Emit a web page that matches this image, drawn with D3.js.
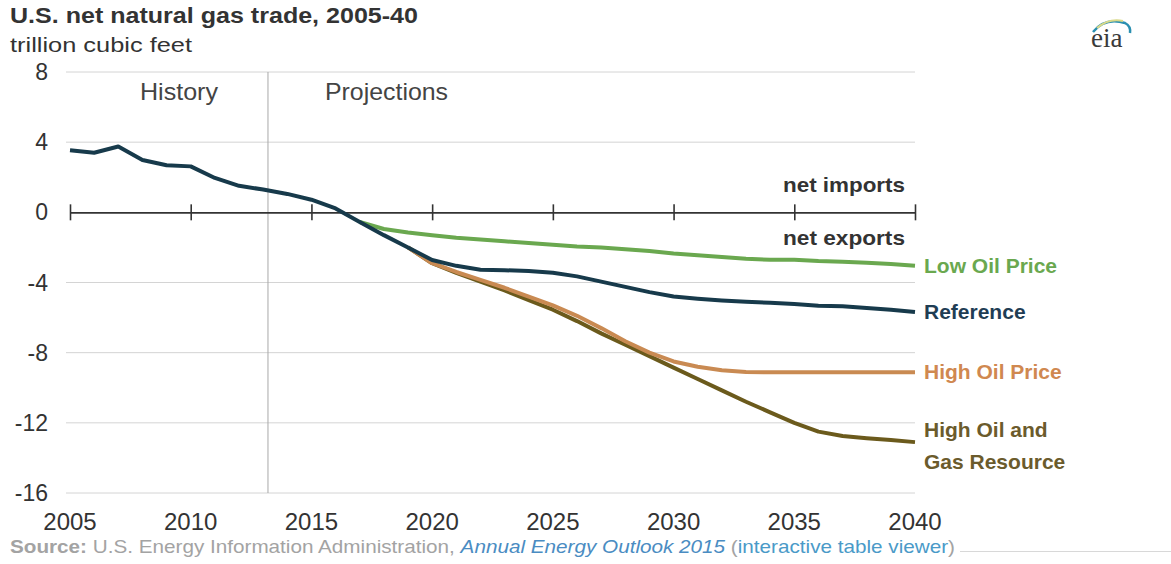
<!DOCTYPE html>
<html>
<head>
<meta charset="utf-8">
<script src="https://cdn.jsdelivr.net/npm/d3@7"></script>
<style>
  html, body { margin: 0; padding: 0; background: #fff; }
  svg { display: block; font-family: "Liberation Sans", Arial, sans-serif; }
</style>
</head>
<body>
<svg id="chart" width="1171" height="564"></svg>
<script>
// U.S. net natural gas trade (trillion cubic feet), positive = net imports
const years = d3.range(2005, 2041);
const reference = [3.54, 3.40, 3.75, 2.98, 2.68, 2.62, 1.96, 1.51, 1.30, 1.05, 0.72, 0.22,
  -0.55, -1.30, -2.00, -2.72, -3.05, -3.27, -3.30, -3.35, -3.45, -3.65, -3.95, -4.25,
  -4.55, -4.80, -4.92, -5.02, -5.10, -5.15, -5.22, -5.32, -5.35, -5.45, -5.55, -5.68];

const lowOilStart = 2017;
const lowOil = [-0.55, -0.95, -1.15, -1.30, -1.45, -1.55, -1.65, -1.75, -1.85, -1.95, -2.00, -2.10,
  -2.20, -2.35, -2.45, -2.55, -2.65, -2.70, -2.70, -2.78, -2.82, -2.88, -2.95, -3.05];

const highOilStart = 2019;
const highOil = [-2.00, -2.90, -3.40, -3.85, -4.30, -4.80, -5.30, -5.90, -6.60, -7.35, -8.00,
  -8.50, -8.80, -9.00, -9.10, -9.12, -9.12, -9.12, -9.12, -9.12, -9.12, -9.12];

const highResourceStart = 2019;
const highResource = [-2.00, -2.90, -3.45, -3.95, -4.45, -5.00, -5.55, -6.20, -6.90, -7.55, -8.20,
  -8.85, -9.50, -10.15, -10.80, -11.40, -12.00, -12.50, -12.75, -12.88, -12.98, -13.10];

const xTicks = [2005, 2010, 2015, 2020, 2025, 2030, 2035, 2040];
const yTicks = [8, 4, 0, -4, -8, -12, -16];
const historyEnd = 2013.2;

const seriesNames = ["Low Oil Price", "Reference", "High Oil Price", "High Oil and Gas Resource"];

const svg = d3.select("#chart");

const x = d3.scaleLinear().domain([2005, 2040]).range([70, 915]);
const y = d3.scaleLinear().domain([-16, 8]).range([493, 72]);

// Title block
svg.append("text").attr("x", 10).attr("y", 23)
  .attr("font-size", 22).attr("font-weight", "bold").attr("fill", "#333")
  .attr("textLength", 408).attr("lengthAdjust", "spacingAndGlyphs")
  .text("U.S. net natural gas trade, 2005-40");
svg.append("text").attr("x", 10).attr("y", 52)
  .attr("font-size", 21).attr("fill", "#333")
  .attr("textLength", 182).attr("lengthAdjust", "spacingAndGlyphs")
  .text("trillion  cubic feet");

// eia mark
const logo = svg.append("g").attr("transform", "translate(1091,47)");
logo.append("path").attr("d", "M2,-15 Q14,-30 34,-24 Q40,-21 39,-14")
  .attr("fill", "none").attr("stroke", "#2a8fb0").attr("stroke-width", 2.5);
logo.append("path").attr("d", "M6,-19 Q18,-29 32,-26")
  .attr("fill", "none").attr("stroke", "#d9d98a").attr("stroke-width", 2);
logo.append("text").attr("x", 0).attr("y", 0)
  .attr("font-family", "'Liberation Serif', 'DejaVu Serif', serif")
  .attr("font-size", 27).attr("fill", "#3a3a3a").text("eia");

// Horizontal gridlines (except zero)
svg.append("g").selectAll("line")
  .data(yTicks.filter(d => d !== 0))
  .join("line")
  .attr("x1", 66).attr("x2", 915)
  .attr("y1", d => y(d)).attr("y2", d => y(d))
  .attr("stroke", "#d4d4d4").attr("stroke-width", 1);

// Y axis labels
svg.append("g").selectAll("text")
  .data(yTicks)
  .join("text")
  .attr("x", 48).attr("y", d => y(d) + 8)
  .attr("text-anchor", "end")
  .attr("font-size", 23).attr("fill", "#333")
  .text(d => d);

// History / projections divider
svg.append("line")
  .attr("x1", x(historyEnd)).attr("x2", x(historyEnd))
  .attr("y1", y(8)).attr("y2", y(-16))
  .attr("stroke", "#a8a8a8").attr("stroke-width", 1);
svg.append("text").attr("x", 140).attr("y", 100)
  .attr("font-size", 24).attr("fill", "#444")
  .attr("textLength", 78).attr("lengthAdjust", "spacingAndGlyphs").text("History");
svg.append("text").attr("x", 325).attr("y", 100)
  .attr("font-size", 24).attr("fill", "#444")
  .attr("textLength", 123).attr("lengthAdjust", "spacingAndGlyphs").text("Projections");

// Zero axis with tick marks
const xAxis = d3.axisBottom(x).tickValues(xTicks).tickSizeInner(8).tickSizeOuter(0).tickFormat("");
const axisG = svg.append("g").attr("transform", `translate(0,${y(0)})`).call(xAxis);
axisG.select(".domain").attr("stroke", "#333").attr("stroke-width", 1.6);
axisG.selectAll(".tick line").attr("y1", -8).attr("y2", 8).attr("stroke", "#333").attr("stroke-width", 1.6);

svg.append("text").attr("x", 905).attr("y", 192).attr("text-anchor", "end")
  .attr("font-size", 21).attr("font-weight", "bold").attr("fill", "#333")
  .attr("textLength", 122).attr("lengthAdjust", "spacingAndGlyphs").text("net imports");
svg.append("text").attr("x", 905).attr("y", 245).attr("text-anchor", "end")
  .attr("font-size", 21).attr("font-weight", "bold").attr("fill", "#333")
  .attr("textLength", 122).attr("lengthAdjust", "spacingAndGlyphs").text("net exports");

// X tick labels
svg.append("g").selectAll("text")
  .data(xTicks)
  .join("text")
  .attr("x", d => x(d)).attr("y", 530)
  .attr("text-anchor", "middle")
  .attr("font-size", 24).attr("fill", "#333")
  .text(d => d);

// Scenario lines
const toPoints = (start, vals) => vals.map((v, i) => [start + i, v]);
const series = [
  { name: seriesNames[0], pts: toPoints(lowOilStart, lowOil), color: "#6aa84f", label: "#6aa84f" },
  { name: seriesNames[3], pts: toPoints(highResourceStart, highResource), color: "#6b5a1c", label: "#6b5b2c" },
  { name: seriesNames[2], pts: toPoints(highOilStart, highOil), color: "#c98a52", label: "#d08850" },
  { name: seriesNames[1], pts: toPoints(2005, reference), color: "#173a4b", label: "#1f3d54" }
];
const line = d3.line().x(d => x(d[0])).y(d => y(d[1]));
svg.append("g").selectAll("path")
  .data(series)
  .join("path")
  .attr("d", d => line(d.pts))
  .attr("fill", "none")
  .attr("stroke", d => d.color)
  .attr("stroke-width", 4)
  .attr("stroke-linejoin", "round");

// End labels
const labelG = svg.append("g").attr("font-size", 21).attr("font-weight", "bold");
series.forEach(s => {
  const last = s.pts[s.pts.length - 1];
  const words = s.name === "High Oil and Gas Resource" ? ["High Oil and", "Gas Resource"] : [s.name];
  const t = labelG.append("text").attr("fill", s.label).attr("x", 924);
  if (words.length === 1) {
    t.attr("y", y(last[1]) + 7).text(words[0]);
  } else {
    t.attr("y", y(last[1]) - 5);
    t.append("tspan").attr("x", 924).attr("dy", 0).text(words[0]);
    t.append("tspan").attr("x", 924).attr("dy", 32).text(words[1]);
  }
});

// Source line
const src = svg.append("text").attr("x", 10).attr("y", 553).attr("font-size", 19).attr("fill", "#a3a3a3")
  .attr("textLength", 945).attr("lengthAdjust", "spacingAndGlyphs");
src.append("tspan").attr("font-weight", "bold").text("Source:");
src.append("tspan").text(" U.S. Energy Information Administration, ");
src.append("tspan").attr("font-style", "italic").attr("fill", "#4a8cc2").text("Annual Energy Outlook 2015");
src.append("tspan").text(" (");
src.append("tspan").attr("fill", "#4a9ac8").text("interactive table viewer");
src.append("tspan").text(")");

svg.append("line").attr("x1", 960).attr("x2", 1171).attr("y1", 551.5).attr("y2", 551.5)
  .attr("stroke", "#d8d8d8").attr("stroke-width", 1);
</script>
</body>
</html>
